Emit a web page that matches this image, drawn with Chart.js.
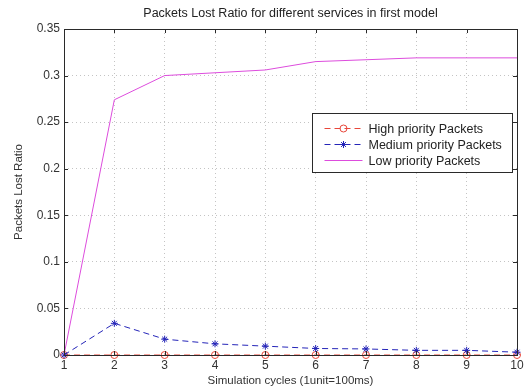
<!DOCTYPE html>
<html>
<head>
<meta charset="utf-8">
<script src="https://cdn.jsdelivr.net/npm/chart.js@4/dist/chart.umd.min.js"></script>
<style>
  html, body { margin: 0; padding: 0; background: #fff; }
  #wrap { width: 530px; height: 392px; }
</style>
</head>
<body>
<div id="wrap"><canvas id="lossChart"></canvas></div>
<script>
// data
const cycles = [1, 2, 3, 4, 5, 6, 7, 8, 9, 10];
const highPriority = [0, 0, 0, 0, 0, 0, 0, 0, 0, 0];
const mediumPriority = [0, 0.034, 0.017, 0.012, 0.0095, 0.007, 0.0065, 0.005, 0.005, 0.003];
const lowPriority = [0, 0.274, 0.300, 0.303, 0.306, 0.315, 0.317, 0.319, 0.319, 0.319];
const yTicks = [0, 0.05, 0.1, 0.15, 0.2, 0.25, 0.3, 0.35];

const FONT = "'Liberation Sans', Arial, sans-serif";
const RED = '#e8463a';
const BLUE = '#2424b8';
const MAGENTA = '#dd4cdd';

// matlab style box + inward ticks
const framePlugin = {
    id: 'frame',
    afterDatasetsDraw(chart) {
        const { ctx, chartArea: a, scales } = chart;
        ctx.save();
        ctx.strokeStyle = '#2a2a2a';
        ctx.lineWidth = 1;
        ctx.strokeRect(Math.round(a.left) + 0.5, Math.round(a.top) + 0.5,
            Math.round(a.right - a.left), Math.round(a.bottom - a.top));
        ctx.beginPath();
        cycles.forEach((c, i) => {
            const x = Math.round(scales.x.getPixelForValue(i)) + 0.5;
            ctx.moveTo(x, a.bottom); ctx.lineTo(x, a.bottom - 4);
            ctx.moveTo(x, a.top); ctx.lineTo(x, a.top + 4);
        });
        yTicks.forEach(v => {
            const y = Math.round(scales.y.getPixelForValue(v)) + 0.5;
            ctx.moveTo(a.left, y); ctx.lineTo(a.left + 4, y);
            ctx.moveTo(a.right, y); ctx.lineTo(a.right - 4, y);
        });
        ctx.stroke();
        ctx.restore();
    }
};

function drawMarker(ctx, style, x, y, color) {
    ctx.strokeStyle = color;
    ctx.lineWidth = 1;
    ctx.setLineDash([]);
    ctx.beginPath();
    if (style === 'circle') {
        ctx.arc(x, y, 3.5, 0, Math.PI * 2);
    } else if (style === 'star') {
        const r = 3.5;
        ctx.moveTo(x - r, y); ctx.lineTo(x + r, y);
        ctx.moveTo(x, y - r); ctx.lineTo(x, y + r);
        ctx.moveTo(x - r * 0.7, y - r * 0.7); ctx.lineTo(x + r * 0.7, y + r * 0.7);
        ctx.moveTo(x - r * 0.7, y + r * 0.7); ctx.lineTo(x + r * 0.7, y - r * 0.7);
    }
    ctx.stroke();
}

// legend box inside the plot, like the original
const boxLegend = {
    id: 'boxLegend',
    afterDraw(chart) {
        const { ctx, chartArea: a } = chart;
        const w = 200, h = 59;
        const left = Math.round(a.right - 5 - w) + 0.5;
        const top = Math.round(a.top + 84) + 0.5;
        ctx.save();
        ctx.fillStyle = '#fff';
        ctx.fillRect(left, top, w, h);
        ctx.strokeStyle = '#2a2a2a';
        ctx.lineWidth = 1;
        ctx.strokeRect(left, top, w, h);
        ctx.font = '12.5px ' + FONT;
        ctx.textBaseline = 'middle';
        chart.data.datasets.forEach((ds, i) => {
            const y = top + 15 + i * 16;
            ctx.strokeStyle = ds.borderColor;
            ctx.setLineDash(ds.borderDash || []);
            ctx.beginPath();
            ctx.moveTo(left + 12, y);
            ctx.lineTo(left + 50, y);
            ctx.stroke();
            if (ds.pointRadius > 0) drawMarker(ctx, ds.pointStyle, left + 31, y, ds.borderColor);
            ctx.fillStyle = '#222';
            ctx.fillText(ds.label, left + 56, y + 1);
        });
        ctx.restore();
    }
};

const ctx = document.getElementById('lossChart').getContext('2d');
const lossChart = new Chart(ctx, {
    type: 'line',
    data: {
        labels: cycles,
        datasets: [{
            label: 'High priority Packets',
            data: highPriority,
            borderColor: RED,
            backgroundColor: 'rgba(0,0,0,0)',
            borderWidth: 1,
            borderDash: [6, 4],
            pointStyle: 'circle',
            pointRadius: 3.5,
            pointBorderWidth: 1,
            pointBackgroundColor: 'rgba(0,0,0,0)',
            clip: 8,
            order: 3
        }, {
            label: 'Medium priority Packets',
            data: mediumPriority,
            borderColor: BLUE,
            backgroundColor: BLUE,
            borderWidth: 1,
            borderDash: [6, 4],
            pointStyle: 'star',
            pointRadius: 3.5,
            pointBorderWidth: 1,
            clip: 8,
            order: 2
        }, {
            label: 'Low priority Packets',
            data: lowPriority,
            borderColor: MAGENTA,
            backgroundColor: MAGENTA,
            borderWidth: 1,
            pointRadius: 0,
            clip: 8,
            order: 1
        }]
    },
    options: {
        responsive: true,
        maintainAspectRatio: false,
        animation: false,
        events: [],
        layout: { padding: { left: 0, right: 13, top: 0, bottom: 0 } },
        plugins: {
            legend: { display: false },
            tooltip: { enabled: false },
            title: {
                display: true,
                fullSize: false,
                text: 'Packets Lost Ratio for different services in first model',
                color: '#222',
                font: { family: FONT, size: 12.5, weight: 'normal', lineHeight: 1.2 },
                padding: { top: 6, bottom: 8 }
            }
        },
        scales: {
            x: {
                type: 'category',
                offset: false,
                afterFit(scale) { scale.height = 37; },
                grid: { color: '#c4c4c4', drawTicks: false, lineWidth: 1 },
                border: { display: false, dash: [1, 3] },
                ticks: { color: '#333', padding: 3, maxRotation: 0, font: { family: FONT, size: 12 } },
                title: {
                    display: true,
                    text: 'Simulation cycles (1unit=100ms)',
                    color: '#333',
                    font: { family: FONT, size: 11.5 },
                    padding: { top: 0, bottom: 4 }
                }
            },
            y: {
                min: 0,
                max: 0.35,
                afterFit(scale) { scale.width = 64; },
                afterBuildTicks(scale) { scale.ticks = yTicks.map(v => ({ value: v })); },
                grid: { color: '#c4c4c4', drawTicks: false, lineWidth: 1 },
                border: { display: false, dash: [1, 3] },
                ticks: {
                    color: '#333',
                    padding: 4,
                    font: { family: FONT, size: 12 },
                    callback: v => String(+v.toFixed(2))
                },
                title: {
                    display: true,
                    text: 'Packets Lost Ratio',
                    color: '#333',
                    font: { family: FONT, size: 11.5 },
                    padding: { top: 12, bottom: 0 }
                }
            }
        }
    },
    plugins: [framePlugin, boxLegend]
});
</script>
</body>
</html>
